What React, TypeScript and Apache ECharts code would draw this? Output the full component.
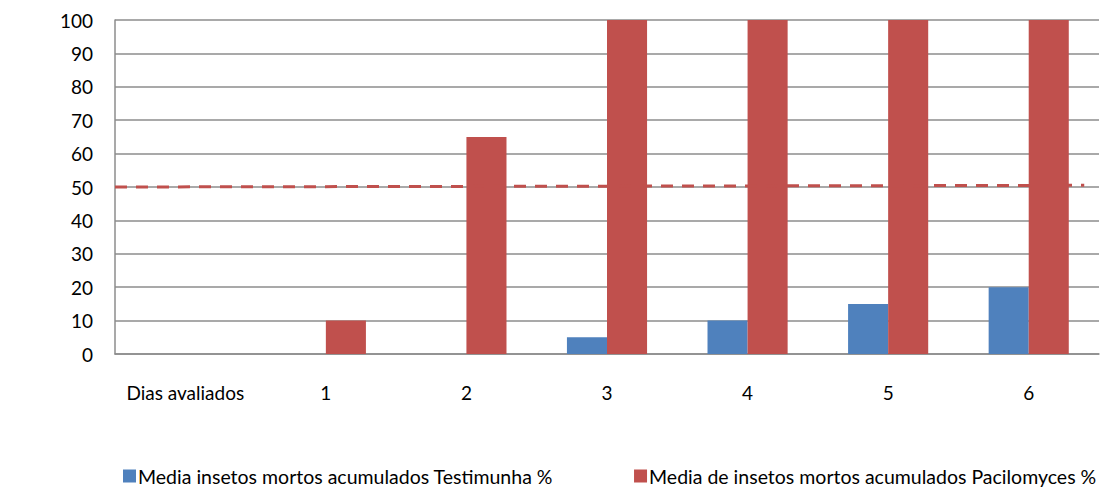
import React, { useEffect, useRef } from "react";
import * as echarts from "echarts";

const categories = ["Dias avaliados", "1", "2", "3", "4", "5", "6"];
const testimunha = [0, 0, 0, 5, 10, 15, 20];
const pacilomyces = [0, 10, 65, 100, 100, 100, 100];
const refLine = [[0, 50], [0.985, 50.5]];
const seriesNames = [
  "Media insetos mortos acumulados Testimunha %",
  "Media de insetos mortos acumulados Pacilomyces %",
];

const FONT = "Lato";

export default function App() {
  const ref = useRef<HTMLDivElement>(null);
  useEffect(() => {
    const chart = echarts.init(ref.current!, null, { renderer: "svg" });
    chart.setOption({
      animation: false,
      textStyle: { fontFamily: FONT },
      grid: { left: 115, right: 14, top: 20, bottom: 146, containLabel: false },
      legend: {
        bottom: 9,
        left: 118,
        itemWidth: 13,
        itemHeight: 13,
        itemGap: 81,
        icon: "rect",
        textStyle: { fontFamily: FONT, fontSize: 19.5, color: "#000", padding: [0, 0, 0, -3] },
        data: seriesNames,
      },
      xAxis: [
        {
          type: "category",
          data: categories,
          axisLine: { lineStyle: { color: "#8c8c8c", width: 1.5 } },
          axisTick: { show: false },
          axisLabel: { color: "#000", fontSize: 19, margin: 29, fontFamily: FONT, interval: 0 },
        },
        { type: "value", min: 0, max: 1, show: false },
      ],
      yAxis: [
        {
          type: "value",
          min: 0,
          max: 100,
          interval: 10,
          axisLine: { show: true, lineStyle: { color: "#8c8c8c", width: 1.5 } },
          axisTick: { show: false },
          axisLabel: { color: "#000", fontSize: 19, margin: 22, fontFamily: FONT },
          splitLine: { lineStyle: { color: "#8c8c8c", width: 1.5 } },
        },
      ],
      series: [
        {
          name: seriesNames[0],
          type: "bar",
          data: testimunha,
          barGap: "0%",
          barCategoryGap: "43%",
          itemStyle: { color: "#4F81BD" },
        },
        {
          name: seriesNames[1],
          type: "bar",
          data: pacilomyces.map((v, i) => (i === 0 ? null : v)),
          barGap: "0%",
          barCategoryGap: "43%",
          itemStyle: { color: "#C0504D" },
        },
        {
          name: "ref",
          type: "line",
          xAxisIndex: 1,
          data: refLine,
          symbol: "none",
          lineStyle: { color: "#C0504D", width: 3, type: [12, 9] },
          z: 5,
        },
      ],
    });
    return () => chart.dispose();
  }, []);
  return (
    <div style={{ margin: -8 }}>
      <div ref={ref} style={{ width: 1113, height: 500 }} />
    </div>
  );
}
